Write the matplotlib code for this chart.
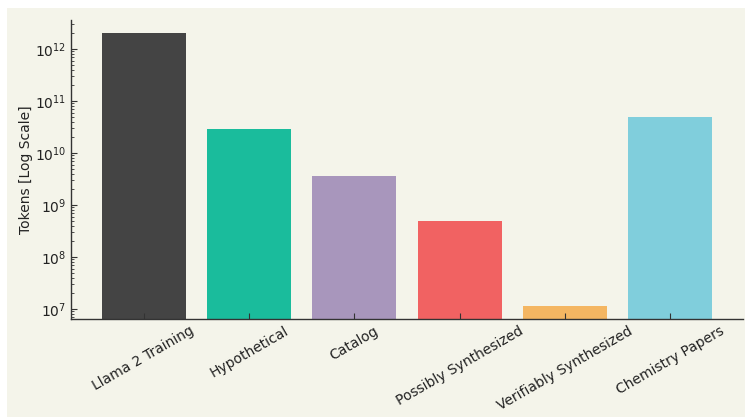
import matplotlib
matplotlib.use('Agg')
import matplotlib.pyplot as plt
from matplotlib.patches import Rectangle

categories = ['Llama 2 Training', 'Hypothetical', 'Catalog', 'Possibly Synthesized',
              'Verifiably Synthesized', 'Chemistry Papers']
tokens = [2.0e12, 2.9e10, 3.6e9, 4.9e8, 1.15e7, 4.9e10]
colors = ['#444444', '#1abc9c', '#a896bc', '#f16262', '#f4b662', '#80cedc']

bg = '#f4f4ea'

fig = plt.figure(figsize=(7.45, 4.19), dpi=100, facecolor='white')
fig.patches.append(Rectangle((7/745, 2/419), 1 - 7/745, 409/419,
                             transform=fig.transFigure, facecolor=bg,
                             edgecolor='none', zorder=-10))
ax = fig.add_axes([71/745, 100/419, 672/745, 299/419])
ax.set_facecolor(bg)

ax.bar(range(len(categories)), tokens, width=0.8, color=colors, bottom=1)
ax.set_yscale('log')
ax.set_ylim(10**6.81, 10**12.56)
ax.set_xlim(-0.69, 5.69)

ax.set_xticks(range(len(categories)))
ax.set_xticklabels(categories, rotation=30, ha='center', fontsize=10, color='#222222')
ax.set_ylabel('Tokens [Log Scale]', fontsize=10, color='#222222', labelpad=1)

for s in ['top', 'right']:
    ax.spines[s].set_visible(False)
for s in ['left', 'bottom']:
    ax.spines[s].set_color('#333333')
    ax.spines[s].set_linewidth(1.0)

ax.tick_params(axis='both', which='both', direction='in', colors='#333333',
               labelcolor='#222222', labelsize=10)
ax.tick_params(axis='both', which='major', length=4)
ax.tick_params(axis='y', which='minor', length=2)

fig.savefig('out.png', dpi=100, facecolor='white')
